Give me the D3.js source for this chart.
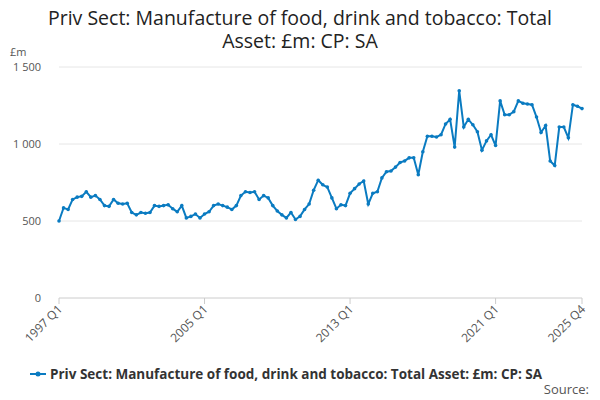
<!DOCTYPE html>
<html><head><meta charset="utf-8">
<script src="https://cdn.jsdelivr.net/npm/d3@7"></script>
<style>body{margin:0;font-family:"Open Sans",sans-serif;}</style>
</head><body><div id="chart"></div>
<script>
const years = d3.range(1997, 2026);
const values = [
  500,585,575,640, 655,660,690,655, 665,640,600,595, 640,615,610,615,
  555,540,555,550, 555,600,595,600, 605,580,560,600, 520,530,545,520,
  545,560,600,610, 600,590,575,600, 665,690,685,690, 640,665,650,600,
  565,540,520,555, 510,530,575,610, 700,765,735,720, 650,580,605,600,
  680,710,740,760, 610,680,690,780, 820,825,850,880, 890,910,910,800,
  950,1050,1050,1045, 1060,1130,1160,980, 1345,1110,1160,1125, 1080,960,1020,1060,
  990,1280,1190,1190, 1210,1280,1265,1260, 1255,1175,1075,1120, 890,860,1110,1110,
  1040,1255,1245,1230
];
const labels = years.flatMap(y => [1,2,3,4].map(q => y + " Q" + q));
const tickLabels = ["1997 Q1","2005 Q1","2013 Q1","2021 Q1","2025 Q4"];
const yTicks = [0,500,1000,1500];
const seriesName = "Priv Sect: Manufacture of food, drink and tobacco: Total Asset: £m: CP: SA";
const color = "#0a7bc1";

const W = 600, H = 400, m = {left:59, right:18, top:67, bottom:102};
const svg = d3.select("#chart").append("svg").attr("width", W).attr("height", H);

svg.append("text").attr("x", W/2).attr("y", 25).attr("text-anchor","middle")
  .attr("font-size", 19.5).attr("fill","#222").text("Priv Sect: Manufacture of food, drink and tobacco: Total");
svg.append("text").attr("x", W/2).attr("y", 48).attr("text-anchor","middle")
  .attr("font-size", 19.5).attr("fill","#222").text("Asset: £m: CP: SA");

const x = d3.scalePoint().domain(labels).range([m.left, W - m.right]);
const y = d3.scaleLinear().domain([0,1500]).range([H - m.bottom, m.top]);

svg.append("text").attr("x", 10).attr("y", 56).attr("font-size", 11).attr("fill","#555").text("£m");

const gy = svg.append("g");
yTicks.forEach(t => {
  gy.append("line").attr("x1", m.left).attr("x2", W - m.right).attr("y1", y(t)).attr("y2", y(t))
    .attr("stroke", t === 0 ? "#ccc" : "#e6e6e6");
  gy.append("text").attr("x", m.left - 18).attr("y", y(t) + 4).attr("text-anchor","end")
    .attr("font-size", 11).attr("fill","#555").text(d3.format(",")(t).replace(",", " "));
});

const gx = svg.append("g");
tickLabels.forEach(l => {
  const px = x(l);
  gx.append("line").attr("x1", px).attr("x2", px).attr("y1", y(0)).attr("y2", y(0) + 6).attr("stroke","#ccc");
  gx.append("text").attr("transform", `translate(${px + 4},${y(0) + 12}) rotate(-45)`)
    .attr("text-anchor","end").attr("font-size", 12).attr("fill","#555").text(l);
});

const data = labels.map((l, i) => ({l, v: values[i]}));
svg.append("path").datum(data).attr("fill","none").attr("stroke", color).attr("stroke-width", 2)
  .attr("d", d3.line().x(d => x(d.l)).y(d => y(d.v)));
svg.append("g").selectAll("circle").data(data).join("circle")
  .attr("cx", d => x(d.l)).attr("cy", d => y(d.v)).attr("r", 1.8).attr("fill", color);

const ly = 374;
svg.append("line").attr("x1", 30).attr("x2", 46).attr("y1", ly).attr("y2", ly).attr("stroke", color).attr("stroke-width", 2);
svg.append("circle").attr("cx", 38).attr("cy", ly).attr("r", 2.5).attr("fill", color);
svg.append("text").attr("x", 50).attr("y", ly + 5).attr("font-size", 13.5).attr("font-weight","bold")
  .attr("fill","#333").text(seriesName);
svg.append("text").attr("x", 589).attr("y", 394).attr("text-anchor","end").attr("font-size", 13)
  .attr("fill","#555").text("Source:");
</script></body></html>
